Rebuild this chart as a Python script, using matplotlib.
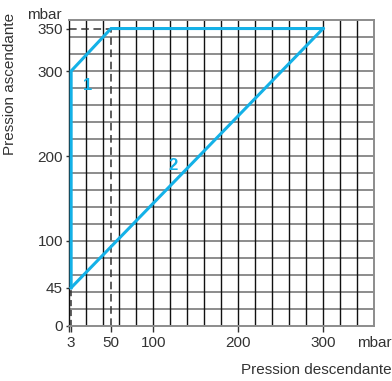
import numpy as np
import matplotlib
matplotlib.use("Agg")
import matplotlib.pyplot as plt

plt.rcParams['font.family'] = ['Liberation Sans', 'DejaVu Sans']

# curve 1 and curve 2 (mbar)
curve1_x = [3, 3, 50, 300]
curve1_y = [45, 300, 350, 350]
curve2_x = [3, 300]
curve2_y = [45, 350]

x_ticks = [3, 50, 100, 200, 300]
y_ticks = [0, 45, 100, 200, 300, 350]

blue = '#14b1e7'
txt = '#333333'
fs = 11

fig = plt.figure(figsize=(3.92, 3.81), dpi=100)
ax = fig.add_axes([0.175, 0.1444, 0.779, 0.803])

ax.set_xlim(0, 360)
ax.set_ylim(0, 360)

# grid: grey horizontals, black verticals on top, every 20 mbar
for h in np.arange(20, 360, 20):
    ax.axhline(h, color='#8c8c8c', lw=1.4, zorder=1)
for v in np.arange(20, 360, 20):
    ax.axvline(v, color='#111111', lw=1.0, zorder=1.5)

for s in ['top', 'right', 'bottom']:
    ax.spines[s].set_color('#8c8c8c')
    ax.spines[s].set_linewidth(1.4)
ax.spines['left'].set_color('#111111')
ax.spines['left'].set_linewidth(1.0)

# dashed guides
ax.plot([50, 50], [0, 350], color='#333333', ls=(0, (5, 3)), lw=1.1, zorder=2)
ax.plot([0, 50], [350, 350], color='#333333', ls=(0, (5, 3)), lw=1.1, zorder=2)
ax.plot([3, 3], [0, 45], color='#333333', ls=(0, (4, 2.5)), lw=1.1, zorder=2)

ax.plot(curve1_x, curve1_y, color=blue, lw=2.2, solid_joinstyle='miter', zorder=3)
ax.plot(curve2_x, curve2_y, color=blue, lw=2.2, zorder=3)

ax.text(23, 283, '1', color=blue, fontsize=12, fontweight='bold', ha='center', va='center')
ax.text(123, 189, '2', color=blue, fontsize=12, fontweight='bold', ha='center', va='center')

ax.set_xticks([0] + x_ticks)
ax.set_xticklabels([''] + [str(t) for t in x_ticks])
ax.set_yticks(y_ticks)
ax.set_yticklabels([str(t) for t in y_ticks])
ax.tick_params(axis='x', length=4, width=1.0, color=txt, labelsize=fs,
               labelcolor=txt, pad=3)
ax.tick_params(axis='y', length=2, width=1.0, color=txt, labelsize=fs,
               labelcolor=txt, pad=2)

fig.text(0.998, 0.1, 'mbar', ha='right', va='center', fontsize=fs, color=txt)
fig.text(0.068, 0.96, 'mbar', ha='left', va='center', fontsize=fs, color=txt)
fig.text(0.998, 0.03, 'Pression descendante', ha='right', va='center',
         fontsize=fs, color=txt)
fig.text(0.008, 0.78, 'Pression ascendante', rotation=90, ha='left', va='center',
         fontsize=fs, color=txt)

fig.savefig('out.png', dpi=100)
